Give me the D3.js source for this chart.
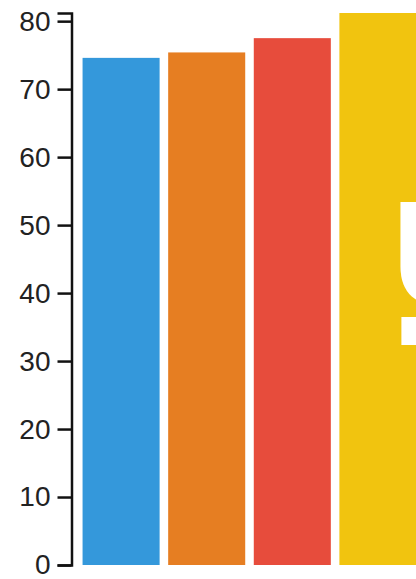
<!DOCTYPE html>
<html>
<head>
<meta charset="utf-8">
<script src="https://cdn.jsdelivr.net/npm/d3@7"></script>
<style>
  body { margin: 0; background: #fff; }
  .frame { display: block; }
  .tick text { font-family: "Liberation Sans", Arial, sans-serif; }
</style>
</head>
<body>
<div id="plot"></div>
<script>
const FRAME_HEIGHT = 579;
const FRAME_WIDTH = 416;
const MARGIN = {left: 72, top: 13, bottom: 14};

const categories = ["A", "B", "C", "D"];
const values = [74.6, 75.4, 77.5, 81.2];
const colors = ["#3498db", "#e67e22", "#e74c3c", "#f1c40f"];
const yTicks = [0, 10, 20, 30, 40, 50, 60, 70, 80];

const FRAME = d3.select("#plot")
  .append("svg")
    .attr("height", FRAME_HEIGHT)
    .attr("width", FRAME_WIDTH)
    .attr("class", "frame");

const MAX_Y = d3.max(values);

const Y_SCALE = d3.scaleLinear()
  .domain([0, MAX_Y])
  .range([FRAME_HEIGHT - MARGIN.bottom, MARGIN.top]);

// the chart is cropped on the right, so the band range runs past the frame
const X_SCALE = d3.scaleBand()
  .domain(categories)
  .range([MARGIN.left + 2, MARGIN.left + 353])
  .paddingInner(0.1)
  .paddingOuter(0.1);

FRAME.selectAll(".bar")
  .data(values)
  .enter()
  .append("rect")
    .attr("class", "bar")
    .attr("x", (d, i) => X_SCALE(categories[i]))
    .attr("y", (d) => Y_SCALE(d))
    .attr("width", X_SCALE.bandwidth())
    .attr("height", (d) => Y_SCALE(0) - Y_SCALE(d))
    .attr("fill", (d, i) => colors[i]);

// big white label in the last bar, mostly cut off
const last = categories[categories.length - 1];
const lx = X_SCALE(last) + 52;
FRAME.append("text")
  .attr("x", lx)
  .attr("y", 306)
  .attr("fill", "#fff")
  .attr("font-family", "Liberation Sans, Arial, sans-serif")
  .attr("font-weight", "bold")
  .attr("font-size", 150)
  .text("U");
FRAME.append("rect")
  .attr("x", lx + 10)
  .attr("y", 317)
  .attr("width", 60)
  .attr("height", 28)
  .attr("fill", "#fff");

// y axis, drawn at ~2.4x the usual size
const yAxis = FRAME.append("g")
  .attr("transform", "translate(" + (MARGIN.left - 0.5) + ",0)")
  .call(d3.axisLeft(Y_SCALE).tickValues(yTicks).tickSize(14).tickPadding(7));

yAxis.selectAll("text").attr("font-size", "28px").attr("fill", "#222");
yAxis.selectAll("path, line").attr("stroke", "#111").attr("stroke-width", 2.5);
</script>
</body>
</html>
